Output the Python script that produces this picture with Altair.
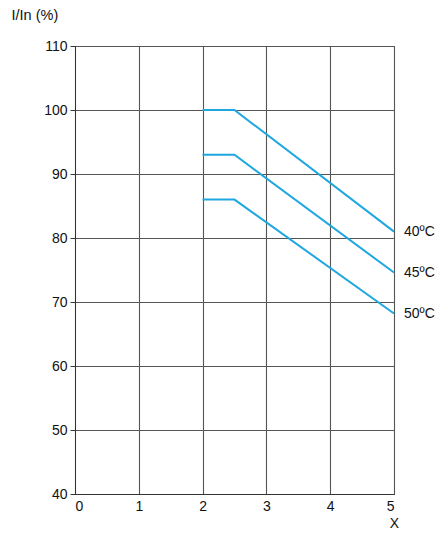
import altair as alt
import pandas as pd

series = ["40ºC", "45ºC", "50ºC"]
xs = [2, 2.5, 5]
vals = {
    "40ºC": [100, 100, 81],
    "45ºC": [93, 93, 74.6],
    "50ºC": [86, 86, 68.2],
}
x_ticks = [0, 1, 2, 3, 4, 5]
y_ticks = [40, 50, 60, 70, 80, 90, 100, 110]

rows = []
for s in series:
    for x, v in zip(xs, vals[s]):
        rows.append({"series": s, "x": x, "y": v})
df = pd.DataFrame(rows)
ends = df[df["x"] == xs[-1]]

FONT = "Liberation Sans"
COLOR = "#1ea7e1"
TXT = "#111"

xenc = alt.X("x:Q", scale=alt.Scale(domain=[0, 5], nice=False),
             axis=alt.Axis(values=x_ticks, title="X", titleAngle=0, titleX=319, titleY=29,
                           titleAlign="center", titleBaseline="middle", titleFontWeight="normal",
                           titleFontSize=14, titleColor=TXT,
                           labelFontSize=14, labelColor=TXT, labelPadding=5, ticks=False,
                           domainColor="#333", gridColor="#555", gridWidth=1.1, format="d"))
yenc = alt.Y("y:Q", scale=alt.Scale(domain=[40, 110], nice=False),
             axis=alt.Axis(values=y_ticks, title="I/In (%)", titleAngle=0, titleX=-64, titleY=-31,
                           titleAlign="left", titleBaseline="middle", titleFontWeight="normal",
                           titleFontSize=14.5, titleColor=TXT,
                           labelFontSize=14, labelColor=TXT, labelPadding=3, tickSize=5,
                           tickColor="#333", domainColor="#333", gridColor="#555", gridWidth=1.1))

lines = alt.Chart(df).mark_line(strokeWidth=2, color=COLOR).encode(
    x=xenc, y=yenc, detail="series:N"
)
labels = alt.Chart(ends).mark_text(align="left", baseline="middle", dx=10, fontSize=14,
                                   font=FONT, color=TXT).encode(
    x="x:Q", y="y:Q", text="series:N"
)

chart = (lines + labels).properties(
    width=319, height=448,
    autosize=alt.AutoSizeParams(type="none"),
    padding={"left": 67, "top": 38, "right": 41, "bottom": 40},
).configure(font=FONT).configure_view(stroke="#333", strokeWidth=1)

chart.save("out.html", embed_options={"renderer": "svg", "actions": False})
